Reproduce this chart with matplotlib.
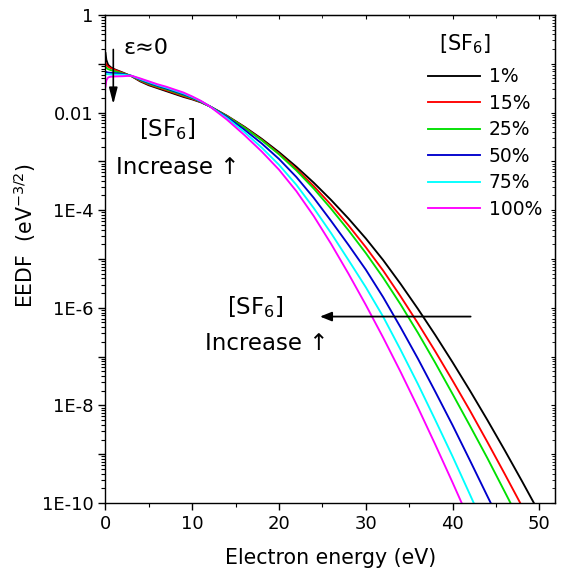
import numpy as np
import matplotlib
matplotlib.use("Agg")
import matplotlib.pyplot as plt
from matplotlib.ticker import LogLocator, FuncFormatter, MultipleLocator, NullFormatter

plt.rcParams['font.family'] = ['DejaVu Sans']
plt.rcParams['mathtext.fontset'] = 'dejavusans'

# Electron energy grid (eV)
energy = [0, 0.1, 0.3, 0.6, 1, 2, 3, 4, 5, 6, 7, 8, 9, 10, 11,
          12, 14, 16, 18, 20, 22, 24, 26, 28, 30, 32, 34, 36, 38, 40, 42, 44, 46, 48, 50]

# log10(EEDF), one list per SF6 fraction
log_1 = [-0.78, -0.92, -1.02, -1.07, -1.11, -1.18, -1.255, -1.36, -1.44, -1.50, -1.56, -1.62, -1.68, -1.73, -1.79,
         -1.87, -2.065, -2.289, -2.537, -2.811, -3.111, -3.437, -3.791, -4.171, -4.579, -5.023, -5.509,
         -6.021, -6.557, -7.117, -7.697, -8.297, -8.917, -9.553, -10.205]
log_15 = [-0.98, -1.02, -1.06, -1.09, -1.12, -1.19, -1.253, -1.348, -1.424, -1.484, -1.542, -1.602, -1.662, -1.718, -1.784,
          -1.87, -2.070, -2.301, -2.557, -2.841, -3.156, -3.507, -3.891, -4.311, -4.759, -5.238, -5.764,
          -6.316, -6.892, -7.492, -8.107, -8.747, -9.402, -10.068, -10.750]
log_25 = [-1.06, -1.08, -1.11, -1.13, -1.15, -1.20, -1.25, -1.336, -1.408, -1.468, -1.524, -1.584, -1.644, -1.706, -1.778,
          -1.87, -2.075, -2.309, -2.567, -2.856, -3.186, -3.557, -3.971, -4.411, -4.879, -5.383, -5.929,
          -6.511, -7.127, -7.767, -8.417, -9.077, -9.767, -10.458, -11.155]
log_50 = [-1.16, -1.17, -1.18, -1.185, -1.19, -1.21, -1.248, -1.324, -1.392, -1.452, -1.506, -1.566, -1.626, -1.694, -1.772,
          -1.87, -2.090, -2.349, -2.632, -2.951, -3.321, -3.747, -4.221, -4.711, -5.219, -5.783, -6.399,
          -7.041, -7.717, -8.407, -9.127, -9.857, -10.577, -11.313, -12.055]
log_75 = [-1.20, -1.21, -1.215, -1.22, -1.22, -1.225, -1.246, -1.312, -1.376, -1.436, -1.488, -1.548, -1.608, -1.682, -1.766,
          -1.87, -2.115, -2.399, -2.717, -3.071, -3.481, -3.957, -4.471, -5.021, -5.579, -6.183, -6.859,
          -7.561, -8.297, -9.047, -9.827, -10.617, -11.417, -12.233, -13.065]
log_100 = [-1.47, -1.34, -1.28, -1.265, -1.26, -1.255, -1.245, -1.30, -1.36, -1.42, -1.47, -1.53, -1.59, -1.67, -1.76,
           -1.87, -2.145, -2.459, -2.797, -3.171, -3.611, -4.121, -4.691, -5.301, -5.941, -6.611, -7.311,
           -8.041, -8.801, -9.581, -10.381, -11.20, -12.04, -12.88, -13.72]

series_labels = ['1%', '15%', '25%', '50%', '75%', '100%']
series_colors = ['#000000', '#ff0000', '#00e000', '#0000cc', '#00ffff', '#ff00ff']
series_logs = [log_1, log_15, log_25, log_50, log_75, log_100]

fig = plt.figure(figsize=(5.62, 5.74), dpi=100)
ax = fig.add_axes([0.1877, 0.1237, 0.7998, 0.8502])

handles = []
for lg, c, lab in zip(series_logs, series_colors, series_labels):
    h, = ax.plot(energy, np.power(10.0, lg), color=c, lw=1.35, label=lab)
    handles.append(h)

ax.set_yscale('log')
ax.set_xlim(0, 51.8)
ax.set_ylim(1e-10, 1)

ax.xaxis.set_major_locator(MultipleLocator(10))
ax.xaxis.set_minor_locator(MultipleLocator(5))
ax.yaxis.set_major_locator(LogLocator(base=10, numticks=30))
ax.yaxis.set_minor_locator(LogLocator(base=10, subs=np.arange(2, 10), numticks=30))
ax.yaxis.set_minor_formatter(NullFormatter())

def yfmt(v, pos):
    e = int(round(np.log10(v)))
    if e % 2 != 0:
        return ''
    if e == 0:
        return '1'
    if e == -2:
        return '0.01'
    return '1E%d' % e
ax.yaxis.set_major_formatter(FuncFormatter(yfmt))

ax.tick_params(axis='both', which='major', labelsize=13, direction='out', length=5, width=1.0)
ax.tick_params(axis='both', which='minor', direction='out', length=3, width=0.8)

secx = ax.secondary_xaxis('top')
secx.xaxis.set_major_locator(MultipleLocator(10))
secx.xaxis.set_minor_locator(MultipleLocator(5))
secx.tick_params(which='major', direction='in', length=3, labeltop=False)
secx.tick_params(which='minor', direction='in', length=2)
secy = ax.secondary_yaxis('right')
secy.yaxis.set_major_locator(LogLocator(base=10, numticks=30))
secy.yaxis.set_minor_locator(LogLocator(base=10, subs=np.arange(2, 10), numticks=30))
secy.tick_params(which='major', direction='in', length=3, labelright=False)
secy.tick_params(which='minor', direction='in', length=2)
secy.yaxis.set_major_formatter(NullFormatter())
secy.yaxis.set_minor_formatter(NullFormatter())

for sp in ax.spines.values():
    sp.set_linewidth(1.0)

ax.set_xlabel('Electron energy (eV)', fontsize=14.8, labelpad=11)
ax.set_ylabel('EEDF  (eV$^{-3/2}$)', fontsize=14.8)
ax.yaxis.set_label_coords(-0.150, 0.548)

# legend
ax.legend(handles=handles, labels=series_labels, loc='upper left',
          bbox_to_anchor=(0.7175, 0.893), frameon=False, fontsize=13.5,
          handlelength=2.77, handletextpad=0.48, labelspacing=0.40,
          borderpad=0, borderaxespad=0)
ax.text(38.47, 10**-0.717, '[SF$_6$]', fontsize=15, ha='left', va='baseline')

# annotations
ax.text(2.02, 10**-0.80, '\u03b5\u22480', fontsize=16, ha='left', va='baseline')
ax.annotate('', xy=(0.9, 10**-1.885), xytext=(0.9, 10**-0.65),
            arrowprops=dict(arrowstyle='-|>,head_length=0.7,head_width=0.18',
                            color='black', lw=1.2, mutation_scale=14))
ax.text(3.86, 10**-2.48, '[SF$_6$]', fontsize=16.5, ha='left', va='baseline')
ax.text(1.21, 10**-3.265, 'Increase \u2191', fontsize=16.5, ha='left', va='baseline')

ax.text(13.98, 10**-6.127, '[SF$_6$]', fontsize=16.5, ha='left', va='baseline')
ax.text(11.48, 10**-6.865, 'Increase \u2191', fontsize=16.5, ha='left', va='baseline')
ax.annotate('', xy=(24.4, 10**-6.18), xytext=(42.4, 10**-6.18),
            arrowprops=dict(arrowstyle='-|>,head_length=0.5,head_width=0.2',
                            color='black', lw=1.3, mutation_scale=14))

fig.savefig('out.png', dpi=100)
